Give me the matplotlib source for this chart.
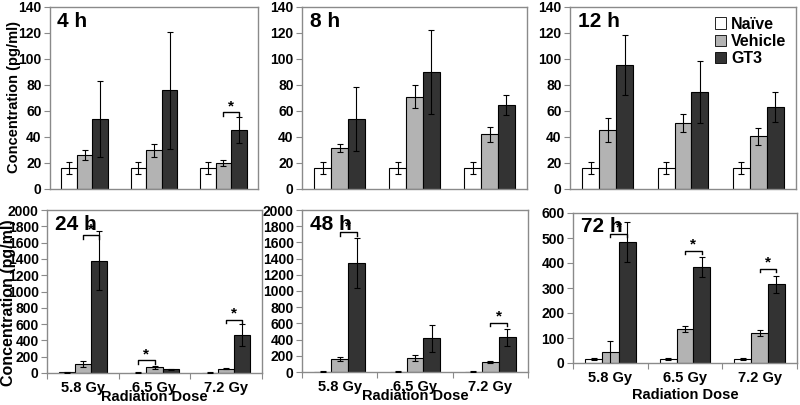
import numpy as np
import matplotlib.pyplot as plt
from matplotlib.patches import Patch

plt.rcParams['font.family'] = ['Liberation Sans', 'DejaVu Sans']
plt.rcParams['font.weight'] = 'bold'

# Data
doses = ['5.8 Gy', '6.5 Gy', '7.2 Gy']
series = ['Naïve', 'Vehicle', 'GT3']
titles = ['4 h', '8 h', '12 h', '24 h', '48 h', '72 h']

naive_4h = [16, 16, 16]
vehicle_4h = [26, 30, 20]
gt3_4h = [54, 76, 45.5]
naive_4h_err = [4.5, 4.5, 4.5]
vehicle_4h_err = [4, 5, 2.5]
gt3_4h_err = [29, 45, 10]

naive_8h = [16, 16, 16]
vehicle_8h = [31.5, 71, 42]
gt3_8h = [54, 90, 64.5]
naive_8h_err = [4.5, 4.5, 4.5]
vehicle_8h_err = [3, 9, 5.5]
gt3_8h_err = [24.5, 32, 7.5]

naive_12h = [16, 16, 16]
vehicle_12h = [45.5, 50.5, 40.5]
gt3_12h = [95.5, 74.5, 63]
naive_12h_err = [4.5, 4.5, 4.5]
vehicle_12h_err = [9, 7, 6.5]
gt3_12h_err = [23, 24, 11.5]

naive_24h = [8, 5, 5]
vehicle_24h = [110, 70, 55]
gt3_24h = [1380, 45, 465]
naive_24h_err = [3, 2, 2]
vehicle_24h_err = [35, 15, 10]
gt3_24h_err = [365, 10, 135]

naive_48h = [6, 5, 5]
vehicle_48h = [160, 170, 120]
gt3_48h = [1345, 415, 430]
naive_48h_err = [3, 3, 3]
vehicle_48h_err = [30, 40, 10]
gt3_48h_err = [310, 170, 105]

naive_72h = [15, 15, 15]
vehicle_72h = [43, 137, 120]
gt3_72h = [485, 385, 315]
naive_72h_err = [4, 4, 4]
vehicle_72h_err = [45, 12, 13]
gt3_72h_err = [80, 40, 35]

# significance brackets: (dose index, from bar, to bar, bracket height)
sig_4h = [(2, 1, 2, 59)]
sig_24h = [(0, 1, 2, 1690), (1, 0, 1, 155), (2, 1, 2, 650)]
sig_48h = [(0, 1, 2, 1725), (2, 1, 2, 605)]
sig_72h = [(0, 1, 2, 516), (1, 1, 2, 449), (2, 1, 2, 377)]

values = [(naive_4h, vehicle_4h, gt3_4h), (naive_8h, vehicle_8h, gt3_8h),
          (naive_12h, vehicle_12h, gt3_12h), (naive_24h, vehicle_24h, gt3_24h),
          (naive_48h, vehicle_48h, gt3_48h), (naive_72h, vehicle_72h, gt3_72h)]
errors = [(naive_4h_err, vehicle_4h_err, gt3_4h_err), (naive_8h_err, vehicle_8h_err, gt3_8h_err),
          (naive_12h_err, vehicle_12h_err, gt3_12h_err), (naive_24h_err, vehicle_24h_err, gt3_24h_err),
          (naive_48h_err, vehicle_48h_err, gt3_48h_err), (naive_72h_err, vehicle_72h_err, gt3_72h_err)]
sigs = [sig_4h, [], [], sig_24h, sig_48h, sig_72h]
ylims = [140, 140, 140, 2000, 2000, 600]
ysteps = [20, 20, 20, 200, 200, 100]

colors = ['white', '#b3b3b3', '#333333']
frame = '#8a8a8a'
width = 0.225

# axes rectangles in figure fractions (800 x 405 px)
rects = [
    [50 / 800, 1 - 189 / 405, 208 / 800, 182 / 405],
    [302 / 800, 1 - 189 / 405, 225 / 800, 182 / 405],
    [570 / 800, 1 - 189 / 405, 226 / 800, 182 / 405],
    [47 / 800, 1 - 373 / 405, 215 / 800, 163 / 405],
    [302 / 800, 1 - 372 / 405, 226 / 800, 162 / 405],
    [573 / 800, 1 - 363 / 405, 224 / 800, 150 / 405],
]

fig = plt.figure(figsize=(8, 4.05), dpi=100)
x = np.arange(len(doses))

for i in range(6):
    ax = fig.add_axes(rects[i])
    for j in range(3):
        ax.bar(x + (j - 1) * width, values[i][j], width, color=colors[j],
               edgecolor='black', linewidth=0.8, zorder=2)
        ax.errorbar(x + (j - 1) * width, values[i][j], yerr=errors[i][j], fmt='none',
                    ecolor='black', elinewidth=0.8, capsize=2, capthick=0.8, zorder=3)

    ymax = ylims[i]
    d = ymax * 0.02
    for g, a, b, h in sigs[i]:
        x0 = g + (a - 1) * width
        x1 = g + (b - 1) * width
        ax.plot([x0, x0, x1, x1], [h - d, h, h, h - d], color='black', lw=1.0, zorder=4)
        ax.text((x0 + x1) / 2, h - ymax * 0.005, '*', ha='center', va='bottom',
                fontsize=11, fontweight='bold')

    ax.set_xlim(-0.5, 2.5)
    ax.set_ylim(0, ymax)
    ax.set_yticks(np.arange(0, ymax + 1, ysteps[i]))
    ax.tick_params(axis='y', labelsize=10, length=4, color=frame, width=0.8, pad=2)
    for s in ax.spines.values():
        s.set_color(frame)
        s.set_linewidth(1.0)
    for lab in ax.get_yticklabels():
        lab.set_fontweight('bold')

    ax.text(0.035, 0.97, titles[i], transform=ax.transAxes, ha='left', va='top',
            fontsize=15, fontweight='bold')

    if i < 3:
        ax.set_xticks([])
    else:
        ax.set_xticks(x)
        ax.set_xticklabels(doses, fontsize=10.5, fontweight='bold')
        ax.set_xticks([-0.5, 0.5, 1.5, 2.5], minor=True)
        ax.tick_params(axis='x', which='major', length=0, pad=6)
        ax.tick_params(axis='x', which='minor', length=4, color=frame, width=0.8)
        if i == 5:
            ax.set_xlabel('Radiation Dose', fontsize=10.5, fontweight='bold', labelpad=2)
        else:
            ax.set_xlabel('Radiation Dose', fontsize=10.5, fontweight='bold', labelpad=-4)

    if i == 2:
        handles = [Patch(facecolor=c, edgecolor='black', linewidth=0.6) for c in colors]
        ax.legend(handles, series, loc='upper right', frameon=False,
                  handlelength=0.7, handleheight=0.7, handletextpad=0.3,
                  labelspacing=0.15, borderaxespad=0.2, prop={'weight': 'bold', 'size': 11.5})

# y-axis titles, placed where the reference has them
fig.text(14 / 800, 1 - 97 / 405, 'Concentration (pg/ml)', rotation=90, ha='center', va='center',
         fontsize=10.5, fontweight='bold')
fig.text(9 / 800, 1 - 303 / 405, 'Concentration (pg/ml)', rotation=90, ha='center', va='center',
         fontsize=11.5, fontweight='bold')

fig.savefig('out.png', dpi=100)
